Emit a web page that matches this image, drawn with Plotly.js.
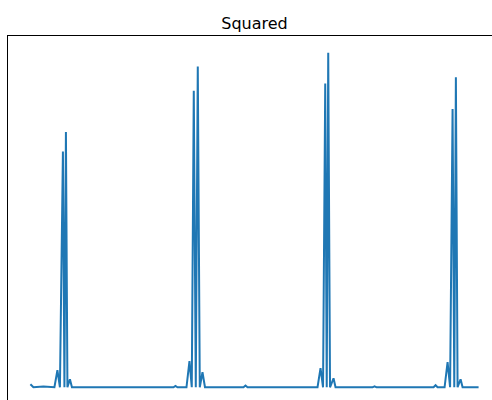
<!DOCTYPE html>
<html>
<head>
<meta charset="utf-8">
<script src="https://cdn.plot.ly/plotly-3.0.1.min.js"></script>
<style>
html, body { margin: 0; padding: 0; overflow: hidden; background: #fff; }
#chart { width: 501px; height: 404px; }
</style>
</head>
<body>
<div id="chart"></div>
<script>
// Sample index and squared signal values
var sampleIndex = [0, 3, 13, 24, 27, 29.5, 32.5, 34, 35.5, 37, 39.5, 41.5,
  143, 145, 147, 156, 159, 161.3, 163.3, 165.3, 167.3, 169.3, 172, 174.5,
  213, 215, 217, 287, 290, 292.5, 294.7, 296.2, 297.7, 299.5, 303, 305,
  342, 344, 346, 403, 405, 407, 414, 417, 419.5, 422, 423.7, 425.3, 427, 430, 432, 448];
var squaredValue = [0.009, 0, 0.002, 0, 0.051, 0, 0.705, 0, 0.763, 0, 0.024, 0,
  0, 0.004, 0, 0, 0.078, 0, 0.886, 0, 0.959, 0, 0.045, 0,
  0, 0.005, 0, 0, 0.057, 0, 0.908, 0, 1.0, 0, 0.027, 0,
  0, 0.003, 0, 0, 0.006, 0, 0, 0.075, 0, 0.832, 0, 0.927, 0, 0.024, 0, 0];
var chartTitle = "Squared";

var trace = {
  x: sampleIndex,
  y: squaredValue,
  type: "scatter",
  mode: "lines",
  line: { color: "#1f77b4", width: 2 },
  hoverinfo: "x+y"
};

var layout = {
  width: 501,
  height: 404,
  margin: { l: 7.6, r: 0, t: 36.3, b: 0, pad: 0 },
  paper_bgcolor: "#ffffff",
  plot_bgcolor: "#ffffff",
  showlegend: false,
  title: {
    text: chartTitle,
    font: { family: "DejaVu Sans", size: 16, color: "#000000" },
    x: 0.5, xref: "paper", xanchor: "center",
    y: 1 - 23 / 404, yref: "container", yanchor: "middle"
  },
  xaxis: {
    range: [-22.4, 470.4],
    showgrid: false, zeroline: false,
    showticklabels: false, ticks: "",
    showline: true, mirror: true, linecolor: "#000000", linewidth: 1
  },
  yaxis: {
    range: [-0.05, 1.05],
    showgrid: false, zeroline: false,
    showticklabels: false, ticks: "",
    showline: true, mirror: true, linecolor: "#000000", linewidth: 1
  }
};

Plotly.newPlot("chart", [trace], layout, { displayModeBar: false, staticPlot: true });
</script>
</body>
</html>
